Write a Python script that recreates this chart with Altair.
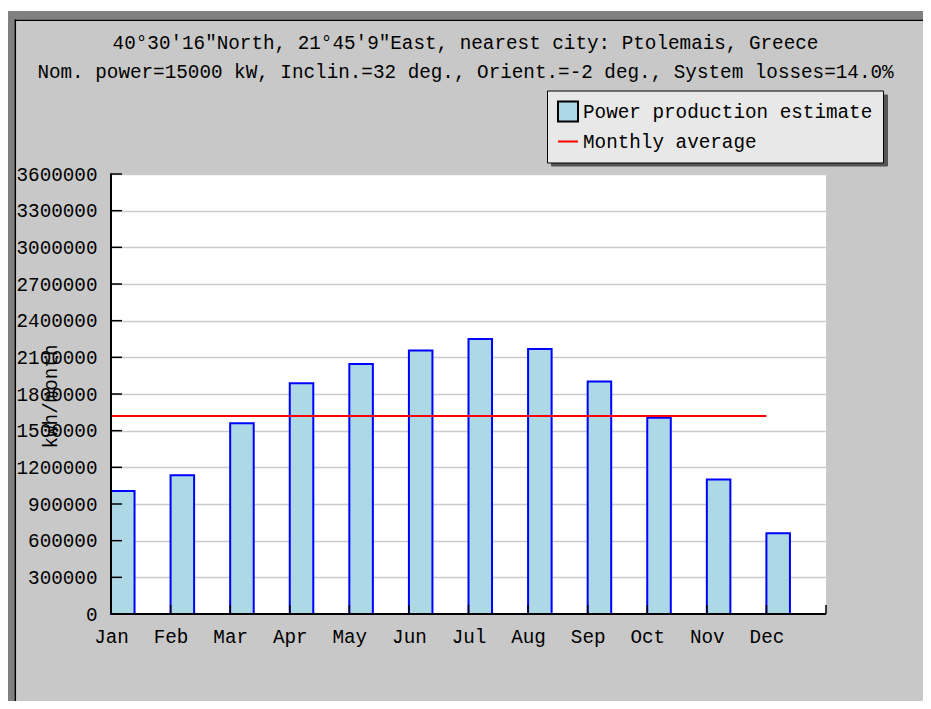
import altair as alt
import pandas as pd

# ---------------- data ----------------
months = ["Jan", "Feb", "Mar", "Apr", "May", "Jun",
          "Jul", "Aug", "Sep", "Oct", "Nov", "Dec"]
production = [1007000, 1136000, 1560000, 1888000, 2045000, 2155000,
              2250000, 2168000, 1903000, 1606000, 1100000, 661000]
monthly_average = 1620000
y_ticks = [0, 300000, 600000, 900000, 1200000, 1500000, 1800000,
           2100000, 2400000, 2700000, 3000000, 3300000, 3600000]
series_names = ["Power production estimate", "Monthly average"]
title_lines = ['40°30′16"North, 21°45′9"East, nearest city: Ptolemais, Greece',
               'Nom. power=15000 kW, Inclin.=32 deg., Orient.=-2 deg., System losses=14.0%']
y_title = "kWh/month"

# ---------------- style ----------------
W, H = 715, 440
PAD_L, PAD_T = 103, 166
CANVAS_W, CANVAS_H = 915, 693
PAD_R, PAD_B = CANVAS_W - PAD_L - W, CANVAS_H - PAD_T - H
FONT = "Liberation Mono"
FS = 19.3
BAR_FRAC = 0.395
BAR_FILL = "#add8e6"
BAR_STROKE = "#0000ff"
AVG_COLOR = "#ff0000"
BG = "#c8c8c8"
DARK = "#808080"
GRID = "#cccccc"
LEG_FILL = "#e8e8e8"
LEG_SHADOW = "#555555"
LEG_X, LEG_Y = 436, -83.5
LEG_PAD, LEG_ROWPAD, LEG_LABOFF = 10, 5, 4
SHADOW_W, SHADOW_H, SHADOW_OFF, SHADOW_PAD = 336, 71, 4, 4

n = len(months)
bars_df = pd.DataFrame({"i": list(range(n)), "month": months, "kwh": production,
                        "series": series_names[0]})
avg_df = pd.DataFrame({"start": [0], "end": [n - 1], "kwh": [monthly_average],
                       "series": [series_names[1]]})
key_df = pd.DataFrame({"series": series_names})
shadow_df = pd.DataFrame({"shadow": ["s1", "s2"]})
yt_df = pd.DataFrame({"v": y_ticks})
xt_df = pd.DataFrame({"t": list(range(n + 1))})
one = pd.DataFrame({"k": [0]})

month_arr = "[" + ",".join("'%s'" % m for m in months) + "]"
x_scale = alt.Scale(domain=[0, n], nice=False, zero=False)
y_scale = alt.Scale(domain=[y_ticks[0], y_ticks[-1]], nice=False)

x_axis = alt.Axis(values=list(range(n + 1)),
                  labelExpr="datum.value < %d ? %s[datum.value] : ''" % (n, month_arr),
                  title=None, grid=False, ticks=False, tickSize=0, domain=False,
                  labelPadding=13, labelFont=FONT, labelFontSize=FS, labelColor="black",
                  labelAngle=0, labelFlush=False, labelOverlap=False)
y_axis = alt.Axis(values=y_ticks, format="d", title=y_title,
                  grid=True, gridColor=GRID, gridWidth=1.5,
                  ticks=False, tickSize=0, domain=False, labelPadding=14,
                  labelFont=FONT, labelFontSize=FS, labelColor="black",
                  labelFlush=False, labelOverlap=False,
                  titleFont=FONT, titleFontSize=FS, titleFontWeight="normal",
                  titleColor="black", titleAngle=270, titleAlign="center",
                  titleBaseline="middle", titleX=-61, titleY=222)


def hrule(y, x1, x2, color, width):
    return alt.Chart(one).mark_rule(color=color, strokeWidth=width).encode(
        y=alt.value(y), x=alt.value(x1), x2=alt.value(x2))


def vrule(x, y1, y2, color, width):
    return alt.Chart(one).mark_rule(color=color, strokeWidth=width).encode(
        x=alt.value(x), y=alt.value(y1), y2=alt.value(y2))


def main_legend():
    return alt.Legend(title=None, orient="none", direction="vertical",
                      legendX=LEG_X, legendY=LEG_Y,
                      padding=LEG_PAD, rowPadding=LEG_ROWPAD,
                      symbolSize=400, symbolStrokeWidth=2, symbolOpacity=1,
                      labelFont=FONT, labelFontSize=FS, labelColor="black",
                      labelOffset=LEG_LABOFF, labelLimit=500,
                      fillColor=LEG_FILL, strokeColor="black", zindex=2)


def build(with_shadow):
    bars = alt.Chart(bars_df).transform_calculate(
        i2="datum.i + %f" % BAR_FRAC, zero="0"
    ).mark_bar(stroke=BAR_STROKE, strokeWidth=2).encode(
        x=alt.X("i:Q", scale=x_scale, axis=x_axis),
        x2="i2:Q",
        y=alt.Y("kwh:Q", scale=y_scale, axis=y_axis),
        y2="zero:Q",
        fill=alt.Fill("series:N",
                      scale=alt.Scale(domain=series_names, range=[BAR_FILL, "transparent"]),
                      legend=main_legend()),
    )
    avg = alt.Chart(avg_df).mark_rule(strokeWidth=2).encode(
        x=alt.X("start:Q", scale=x_scale, axis=x_axis),
        x2="end:Q",
        y=alt.Y("kwh:Q", scale=y_scale, axis=y_axis),
        stroke=alt.Stroke("series:N",
                          scale=alt.Scale(domain=series_names, range=["black", AVG_COLOR]),
                          legend=main_legend()),
    )
    key = alt.Chart(key_df).mark_point(opacity=0).encode(
        x=alt.value(0), y=alt.value(0),
        shape=alt.Shape("series:N",
                        scale=alt.Scale(domain=series_names, range=["square", "stroke"]),
                        legend=main_legend()),
    )
    yt = alt.Chart(yt_df).mark_rule(color="black", strokeWidth=1.5).encode(
        y=alt.Y("v:Q", scale=y_scale, axis=y_axis),
        x=alt.value(0), x2=alt.value(11))
    xt = alt.Chart(xt_df).mark_rule(color="black", strokeWidth=1.5).encode(
        x=alt.X("t:Q", scale=x_scale, axis=x_axis),
        y=alt.value(H), y2=alt.value(H - 9))
    x_line = hrule(H, 0, W, "black", 2)
    y_line = vrule(0, 0, H, "black", 2)

    left, top = -PAD_L, -PAD_T
    right, bottom = CANVAS_W - PAD_L, CANVAS_H - PAD_T
    frame = [
        hrule(top + 1.5, left, right, "white", 3),
        hrule(top + 7, left, right, DARK, 8),
        vrule(left + 3.35, top + 3, bottom, DARK, 6.7),
        hrule(top + 12.2, left + 6.7, right, "black", 1.5),
        vrule(left + 7.3, top + 11.5, bottom, "black", 1.5),
    ]
    layers = frame + [bars, avg, key, yt, xt, x_line, y_line]
    if with_shadow:
        sym = SHADOW_H - 2 * SHADOW_PAD
        colpad = SHADOW_W - 2 * SHADOW_PAD - 2 * sym
        sleg = alt.Legend(title=None, orient="none", direction="horizontal",
                          legendX=LEG_X + SHADOW_OFF, legendY=LEG_Y + SHADOW_OFF,
                          padding=SHADOW_PAD, columnPadding=colpad,
                          symbolType="square", symbolSize=sym * sym,
                          symbolStrokeWidth=0, symbolFillColor=LEG_SHADOW,
                          labelExpr="''", labelFontSize=1, labelOffset=0,
                          fillColor=LEG_SHADOW, strokeColor=LEG_SHADOW, zindex=1)
        shadow = alt.Chart(shadow_df).mark_point(filled=True, size=4, color="black").encode(
            x=alt.value(0), y=alt.value(0),
            opacity=alt.Opacity("shadow:O", legend=sleg))
        layers.append(shadow)

    chart = alt.layer(*layers).properties(
        width=W, height=H,
        background=BG,
        padding={"left": PAD_L, "top": PAD_T, "right": PAD_R, "bottom": PAD_B},
        autosize=alt.AutoSizeParams(type="none"),
        title=alt.TitleParams(text=title_lines, font=FONT, fontSize=FS,
                              fontWeight="normal", color="black", anchor="middle",
                              frame="bounds", baseline="middle", lineHeight=29,
                              offset=0, dy=84),
    ).configure_view(fill="white", stroke=None)
    return chart


chart = None
for flag in (True, False):
    try:
        c = build(flag)
        c.to_dict()
        chart = c
        break
    except Exception:
        continue

chart.save("out.html", embed_options={"renderer": "svg", "actions": False})
